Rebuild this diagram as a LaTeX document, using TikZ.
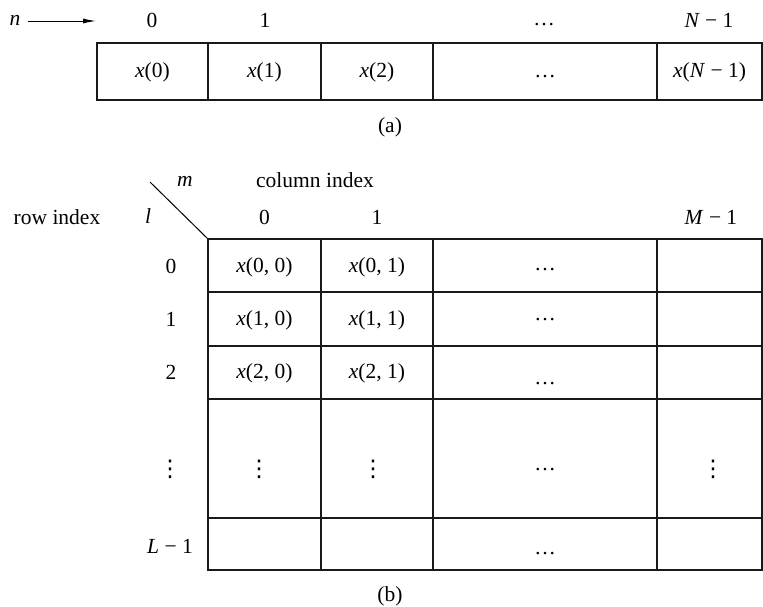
\documentclass[tikz,border=0pt]{standalone}
\usepackage{fontspec}
\setmainfont{Liberation Serif}
\newfontfamily\dejavu{DejaVu Sans}
\usetikzlibrary{arrows.meta}
\newcommand{\myvdots}{{\dejavu\fontsize{23}{25}\selectfont ⋮}}
\begin{document}
\begin{tikzpicture}[x=1pt,y=-1pt,
  lbl/.style={font=\fontsize{21.5}{25}\selectfont, inner sep=0pt, anchor=center},
  gridline/.style={line width=1.3pt, black!90}]
\useasboundingbox (0,0) rectangle (763,606);
% ---------- (a) ----------
\node[lbl] (n) at (15,20) {\textit{n}};
\coordinate (arrend) at (96,21);
\draw[line width=1pt, -{Latex[length=13pt,width=5pt]}] ([xshift=7pt,yshift=-1pt]n.east) -- (arrend);
\node[lbl] (a0) at (152,20) {0};
\node[lbl] (a1) at (265,20) {1};
\node[lbl] (adots) at (544,25) {…};
\node[lbl] (aN) at (709,20) {\textit{N} − 1};
\draw[gridline] (97,43) rectangle (762,100);
\foreach \xx in {208,321,433,657} \draw[gridline] (\xx,43) -- (\xx,100);
\node[lbl] (x0) at (152.5,72) {\textit{x}(0)};
\node[lbl] (x1) at (264.5,72) {\textit{x}(1)};
\node[lbl] (x2) at (377,72) {\textit{x}(2)};
\node[lbl] (xd) at (545,77) {…};
\node[lbl] (xN) at (709.5,72) {\textit{x}(\textit{N} − 1)};
\node[lbl] (capa) at (390,127) {(a)};
% ---------- (b) ----------
\node[lbl] (m) at (185,181) {\textit{m}};
\node[lbl] (colidx) at (315,180) {column index};
\node[lbl] (rowidx) at (57,217) {row index};
\node[lbl] (l) at (148,216) {\textit{l}};
\coordinate (diagA) at (150,182);
\coordinate (diagB) at (208,239);
\draw[line width=1pt] (diagA) -- (diagB);
\node[lbl] (c0) at (264.5,217) {0};
\node[lbl] (c1) at (377,217) {1};
\node[lbl] (cM) at (711,217) {\textit{M} − 1};
% grid
\draw[gridline] (208,239) rectangle (762,570);
\foreach \yy in {292,346,399,518} \draw[gridline] (208,\yy) -- (762,\yy);
\foreach \xx in {321,433,657} \draw[gridline] (\xx,239) -- (\xx,570);
% row labels
\node[lbl] (r0) at (171,266) {0};
\node[lbl] (r1) at (171,319) {1};
\node[lbl] (r2) at (171,372) {2};
\node[lbl] (rv) at (170,469) {\myvdots};
\node[lbl] (rL) at (170,546) {\textit{L} − 1};
% cells
\node[lbl] (x00) at (264.5,267) {\textit{x}(0, 0)};
\node[lbl] (x01) at (377,267) {\textit{x}(0, 1)};
\node[lbl] (x10) at (264.5,320) {\textit{x}(1, 0)};
\node[lbl] (x11) at (377,320) {\textit{x}(1, 1)};
\node[lbl] (x20) at (264.5,373) {\textit{x}(2, 0)};
\node[lbl] (x21) at (377,373) {\textit{x}(2, 1)};
\node[lbl] (d0) at (545,270) {…};
\node[lbl] (d1) at (545,320) {…};
\node[lbl] (d2) at (545,384) {…};
\node[lbl] (d3) at (545,470) {…};
\node[lbl] (d4) at (545,554) {…};
\node[lbl] (v0) at (259,469) {\myvdots};
\node[lbl] (v1) at (373,469) {\myvdots};
\node[lbl] (v2) at (713,469) {\myvdots};
\node[lbl] (capb) at (390,596) {(b)};
\end{tikzpicture}
\end{document}
